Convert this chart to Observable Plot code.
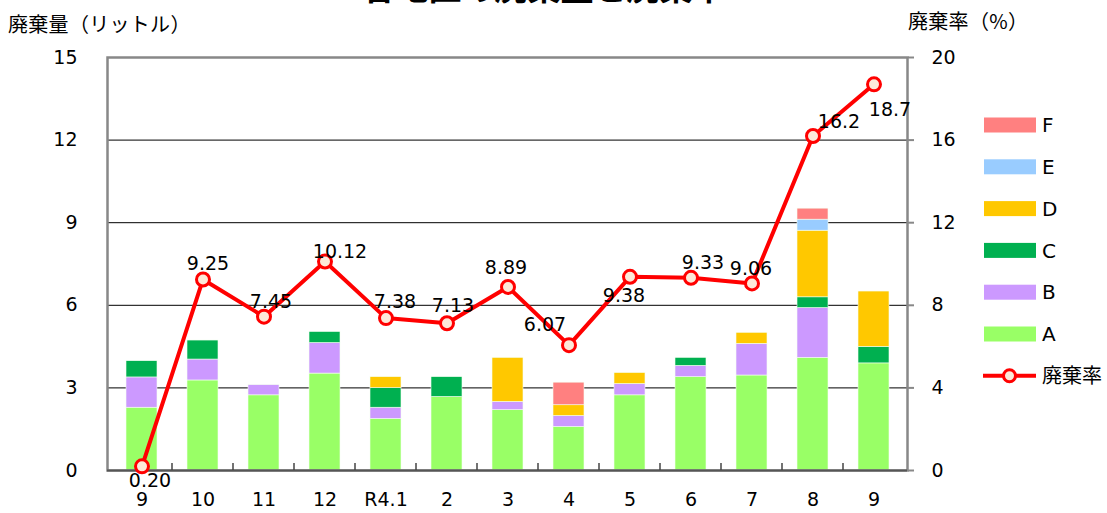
<!DOCTYPE html>
<html><head><meta charset="utf-8">
<script src="https://cdn.jsdelivr.net/npm/d3@7"></script>
<script src="https://cdn.jsdelivr.net/npm/@observablehq/plot@0.6"></script>
<style>
body{margin:0;background:#fff;overflow:hidden;font-family:"DejaVu Sans","Noto Sans CJK JP",sans-serif;}
#wrap{position:relative;width:1107px;height:513px;overflow:hidden;}
.abs{position:absolute;white-space:nowrap;color:#000;line-height:1;}
#wrap svg{position:absolute;left:0;top:0;}
</style></head><body><div id="wrap"></div>
<script>
const title = "各地区の廃棄量と廃棄率";
const leftTitle = "廃棄量（リットル）";
const rightTitle = "廃棄率（%）";
const months = ["9","10","11","12","R4.1","2","3","4","5","6","7","8","9"];
const seriesNames = ["A","B","C","D","E","F"];
const seriesColors = ["#99FF66","#CC99FF","#00B050","#FFC800","#99CCFF","#FF8080"];
const valA = [2.28,3.27,2.73,3.52,1.87,2.67,2.19,1.58,2.73,3.39,3.45,4.09,3.89];
const valB = [1.10,0.76,0.37,1.11,0.41,0,0.30,0.40,0.41,0.41,1.15,1.81,0];
const valC = [0.59,0.69,0,0.40,0.71,0.72,0,0,0,0.29,0,0.39,0.60];
const valD = [0,0,0,0,0.40,0,1.60,0.39,0.40,0,0.40,2.42,2.01];
const valE = [0,0,0,0,0,0,0,0,0,0,0,0.40,0];
const valF = [0,0,0,0,0,0,0,0.82,0,0,0,0.40,0];
const rateName = "廃棄率";
const rate = [0.20,9.25,7.45,10.12,7.38,7.13,8.89,6.07,9.38,9.33,9.06,16.2,18.7];
const rateLabels = ["0.20","9.25","7.45","10.12","7.38","7.13","8.89","6.07","9.38","9.33","9.06","16.2","18.7"];
const leftTicks = [0,3,6,9,12,15];
const rightTicks = [0,4,8,12,16,20];

// label placement offsets (pixels) relative to each point
const labelOffsets = [[8,15],[5,-16],[7,-15],[15,-10],[9,-16],[6,-17],[-2,-19],[-24,-20],[-6,19],[12,-15],[-1,-15],[26,-14],[16,26]];

const seriesVals = [valA,valB,valC,valD,valE,valF];
const K = leftTicks[leftTicks.length-1] / rightTicks[rightTicks.length-1];

const barData = [];
months.forEach((m,i)=>seriesNames.forEach((s,j)=>{const v=seriesVals[j][i]; if(v>0) barData.push({i,s,v});}));
const lineData = rate.map((r,i)=>({i, r, label: rateLabels[i]}));

function boundaryTicks(index, scales) {
  const x = scales.x, y = scales.y;
  const g = d3.create("svg:g");
  const bw = typeof x.bandwidth === "function" ? x.bandwidth() : 0;
  for (let i=0;i<months.length-1;i++){
    const b = (x(i)+bw+x(i+1))/2;
    g.append("line").attr("x1",b).attr("x2",b).attr("y1",y(0)).attr("y2",y(0)-7)
      .attr("stroke","#444").attr("stroke-width",1.5);
  }
  return g.node();
}

const font = '"DejaVu Sans","Noto Sans CJK JP",sans-serif';
const chart = Plot.plot({
  width:1107, height:513, marginLeft:107, marginRight:200, marginTop:57, marginBottom:43,
  style:{fontFamily:font, fontSize:"19px", color:"#000", background:"transparent"},
  x:{type:"band", domain:d3.range(months.length), paddingInner:0.5, paddingOuter:0.25, axis:null},
  y:{domain:[0,15], axis:null},
  color:{domain:seriesNames, range:seriesColors},
  marks:[
    Plot.ruleY(leftTicks.slice(1,-1), {stroke:"#000", strokeWidth:1}),
    Plot.barY(barData, {x:"i", y:"v", fill:"s", order:seriesNames, stroke:"#f4fff0", strokeWidth:0.6}),
    Plot.frame({stroke:"#888", strokeWidth:2.5}),
    Plot.ruleY([0], {stroke:"#555", strokeWidth:2}),
    boundaryTicks,
    Plot.axisY({anchor:"left", label:null, ticks:leftTicks, tickSize:0, tickPadding:30, fontSize:19}),
    Plot.axisY({anchor:"right", label:null, ticks:rightTicks.map(t=>t*K), tickFormat:d=>String(Math.round(d/K)), tickSize:6, tickPadding:18, stroke:"#888", strokeWidth:2, fontSize:19}),
    Plot.axisX({label:null, ticks:d3.range(months.length), tickFormat:i=>months[i], tickSize:0, tickPadding:22, fontSize:19}),
    Plot.line(lineData, {x:"i", y:d=>d.r*K, stroke:"#ff0000", strokeWidth:4}),
    Plot.dot(lineData, {x:"i", y:d=>d.r*K, r:6.5, fill:"#FDE9D9", stroke:"#ff0000", strokeWidth:3}),
    ...lineData.map((d,k)=>Plot.text([d], {x:"i", y:dd=>dd.r*K, text:"label", dx:labelOffsets[k][0], dy:labelOffsets[k][1], fontSize:19, fill:"#000"}))
  ]
});
const wrap = document.getElementById("wrap");
wrap.appendChild(chart);

function addText(t, x, y, size, weight, anchor){
  const d = document.createElement("div");
  d.className = "abs"; d.textContent = t;
  d.style.left = x+"px"; d.style.top = y+"px"; d.style.fontSize = size+"px";
  d.style.fontWeight = weight||"normal";
  if (anchor==="middle") d.style.transform = "translateX(-50%)";
  wrap.appendChild(d);
  return d;
}
addText(title, 544, -30, 33, "bold", "middle").style.fontFamily = '"Noto Sans CJK JP",sans-serif';
const lt = addText(leftTitle, 8, 14, 20); lt.style.fontFamily = '"Noto Sans CJK JP",sans-serif'; lt.style.letterSpacing = "0.3px";
const rt = addText(rightTitle, 908, 11, 20); rt.style.fontFamily = '"Noto Sans CJK JP",sans-serif'; rt.style.letterSpacing = "0.3px";

// legend
const leg = d3.select(wrap).append("svg").attr("width",1107).attr("height",513).style("pointer-events","none");
const legItems = seriesNames.map((s,j)=>({name:s, color:seriesColors[j]})).reverse();
legItems.forEach((it,k)=>{
  const cy = 125 + k*41.8;
  leg.append("rect").attr("x",984).attr("y",cy-7.5).attr("width",52).attr("height",15).attr("fill",it.color);
  leg.append("text").attr("x",1042).attr("y",cy).attr("dy","0.36em").attr("font-family",font).attr("font-size",20).text(it.name);
});
{
  const cy = 125 + legItems.length*41.8;
  leg.append("line").attr("x1",983).attr("x2",1036).attr("y1",cy).attr("y2",cy).attr("stroke","#ff0000").attr("stroke-width",4);
  leg.append("circle").attr("cx",1009.5).attr("cy",cy).attr("r",6).attr("fill","#FDE9D9").attr("stroke","#ff0000").attr("stroke-width",3);
  leg.append("text").attr("x",1042).attr("y",cy).attr("dy","0.36em").attr("font-family",font).attr("font-size",20).text(rateName);
}
</script></body></html>
